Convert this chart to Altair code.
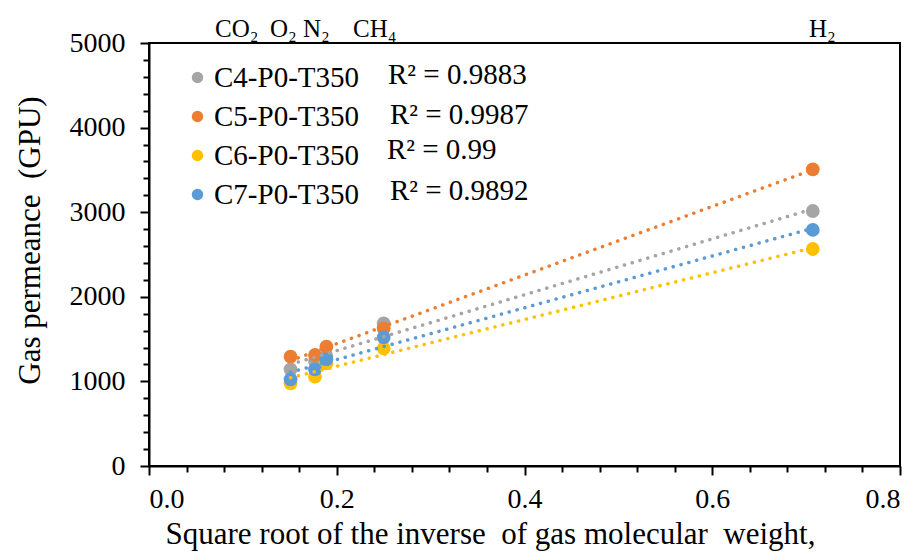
import altair as alt
import pandas as pd

gases = ["CO2", "O2", "N2", "CH4", "H2"]
x_vals = [0.1508, 0.1768, 0.1890, 0.2500, 0.7071]
series_names = ["C4-P0-T350", "C5-P0-T350", "C6-P0-T350", "C7-P0-T350"]
c4 = [1143, 1240, 1300, 1686, 3014]
c5 = [1292, 1312, 1410, 1627, 3507]
c6 = [978, 1056, 1214, 1391, 2565]
c7 = [1025, 1143, 1261, 1521, 2790]
colors = ["#A5A5A5", "#ED7D31", "#FFC000", "#5B9BD5"]

r2_labels = ["R² = 0.9883", "R² = 0.9987", "R² = 0.99", "R² = 0.9892"]
r2_x = [0.2546, 0.2567, 0.2535, 0.2567]
r2_y = [4622, 4150, 3740, 3245]

gas_labels = ["CO₂", "O₂", "N₂", "CH₄", "H₂"]
gas_label_x = [0.0703, 0.1289, 0.1640, 0.2173, 0.7030]
gas_label_y = [5075, 5075, 5075, 5075, 5075]

x_major = [0.0, 0.2, 0.4, 0.6, 0.8]
x_minor = [0.04, 0.08, 0.12, 0.16, 0.24, 0.28, 0.32, 0.36, 0.44, 0.48, 0.52, 0.56,
           0.64, 0.68, 0.72, 0.76]
y_major = [0, 1000, 2000, 3000, 4000, 5000]
y_minor = [v for v in range(0, 5001, 200) if v % 1000 != 0]

rows = []
for name, vals in zip(series_names, [c4, c5, c6, c7]):
    for g, xv, v in zip(gases, x_vals, vals):
        rows.append({"series": name, "gas": g, "x": xv, "value": v})
df = pd.DataFrame(rows)

r2_df = pd.DataFrame({"label": r2_labels, "x": r2_x, "y": r2_y})
gas_df = pd.DataFrame({"label": gas_labels, "x": gas_label_x, "y": gas_label_y})

FONT = "Liberation Serif"

xscale = alt.Scale(domain=[0, 0.8], nice=False)
yscale = alt.Scale(domain=[0, 5000], nice=False)

xaxis = alt.Axis(
    values=x_major, format=".1f", tickSize=9, labelOverlap=False,
    orient="bottom",
    title="Square root of the inverse\u00a0\u00a0of gas molecular\u00a0\u00a0weight,",
    titleX=341, titleY=77, titleBaseline="alphabetic", titleAlign="center",
    labelPadding=10,
)
yaxis = alt.Axis(
    values=y_major, format="d", tickSize=9, labelOverlap=False,
    orient="left",
    title="Gas permeance\u00a0\u00a0(GPU)",
    titleX=-119, titleY=197, titleAngle=-90, titleBaseline="middle", titleAlign="center",
    labelPadding=15,
)
xaxis_minor = alt.Axis(values=x_minor, tickSize=6, labels=False, domain=False,
                       title=None, orient="bottom")
yaxis_minor = alt.Axis(values=y_minor, tickSize=6, labels=False, domain=False,
                       title=None, orient="left")

color = alt.Color(
    "series:N",
    scale=alt.Scale(domain=series_names, range=colors),
    legend=alt.Legend(
        title=None, orient="none", legendX=34, legendY=20,
        labelFont=FONT, labelFontSize=29, labelColor="black",
        symbolType="circle", symbolSize=130, symbolStrokeWidth=0,
        rowPadding=9, labelOffset=2, padding=0,
    ),
)

points = alt.Chart(df).mark_point(filled=True, size=190, opacity=1).encode(
    x=alt.X("x:Q", scale=xscale, axis=xaxis),
    y=alt.Y("value:Q", scale=yscale, axis=yaxis),
    color=color,
)

lines = alt.Chart(df).transform_regression(
    "x", "value", groupby=["series"]
).mark_line(strokeWidth=3.5, strokeDash=[0.1, 8], strokeCap="round").encode(
    x=alt.X("x:Q", scale=xscale, axis=xaxis_minor),
    y=alt.Y("value:Q", scale=yscale, axis=yaxis_minor),
    color=alt.Color("series:N", scale=alt.Scale(domain=series_names, range=colors), legend=None),
)

r2_text = alt.Chart(r2_df).mark_text(
    font=FONT, fontSize=29, align="left", baseline="middle", color="black"
).encode(
    x=alt.X("x:Q", scale=xscale, axis=None),
    y=alt.Y("y:Q", scale=yscale, axis=None),
    text="label:N",
)

gas_text = alt.Chart(gas_df).mark_text(
    font=FONT, fontSize=25, align="left", baseline="alphabetic", color="black", clip=False
).encode(
    x=alt.X("x:Q", scale=xscale, axis=None),
    y=alt.Y("y:Q", scale=yscale, axis=None),
    text="label:N",
)

chart = alt.layer(points, lines, r2_text, gas_text).resolve_axis(
    x="independent", y="independent"
).properties(
    width=751, height=423,
    padding={"left": 149, "top": 43, "right": 15, "bottom": 88},
    autosize="none",
).configure_view(
    stroke="black", strokeWidth=2
).configure_axis(
    labelFont=FONT, labelFontSize=28, labelColor="black",
    titleFont=FONT, titleFontSize=31, titleColor="black", titleFontWeight="normal",
    domainColor="black", domainWidth=2, tickColor="black", tickWidth=2,
    grid=False,
)

chart.save("out.html", embed_options={"renderer": "svg", "actions": False})
